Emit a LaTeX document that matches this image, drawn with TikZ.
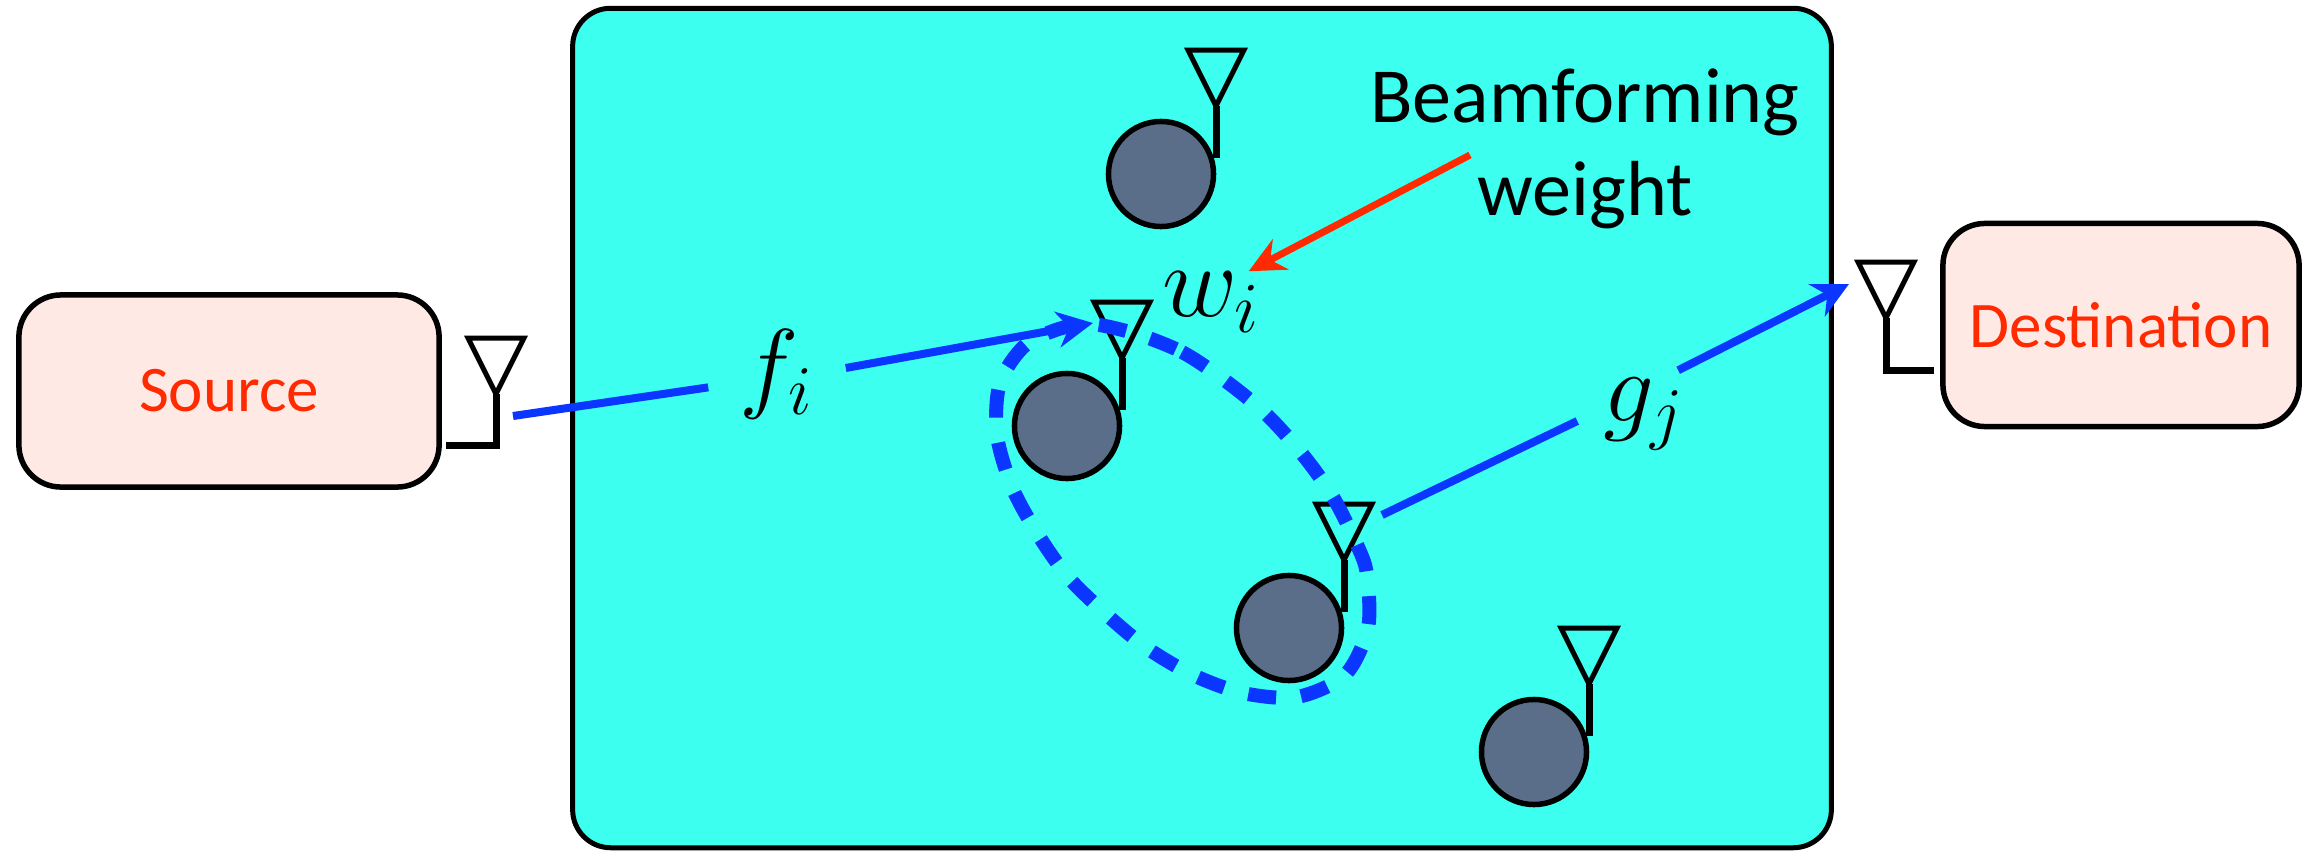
\documentclass[tikz,border=0pt]{standalone}
\usepackage{fontspec}
\setmainfont{Carlito}
\usetikzlibrary{arrows.meta}
\definecolor{netcyan}{HTML}{3CFFF0}
\definecolor{boxpink}{HTML}{FFE9E4}
\definecolor{relaygray}{HTML}{5A6E8A}
\definecolor{sigblue}{HTML}{0A36FF}
\definecolor{labelred}{HTML}{FF2A00}
\tikzset{
  endbox/.style={draw=black, line width=0.055cm, rounded corners=0.42cm, fill=boxpink, text=labelred, inner sep=0pt, font=\fontsize{18.5}{22}\selectfont},
  network/.style={draw=black, line width=0.05cm, rounded corners=0.38cm, fill=netcyan, minimum width=12.58cm, minimum height=8.39cm},
  relay/.style={circle, draw=black, line width=0.055cm, fill=relaygray, minimum size=1.05cm, inner sep=0pt},
  mathlabel/.style={inner sep=0pt, font=\huge},
  antline/.style={draw=black, line width=0.05cm},
  feedline/.style={draw=black, line width=0.07cm},
  sigline/.style={draw=sigblue, line width=0.08cm},
  sigarrow/.style={sigline, -{Stealth[length=0.36cm, width=0.36cm]}},
  cluster/.style={draw=sigblue, line width=0.14cm, dash pattern=on 0.28cm off 0.25cm},
}
\newcommand{\antenna}[1]{\draw[antline] (#1) -- ++(-28,-56) -- ++(56,0) -- cycle;}
\begin{document}
\begin{tikzpicture}[x=0.01cm, y=-0.01cm]
  \useasboundingbox (0,0) rectangle (2308,851);

  % Relay Network
  \node[network] (net) at (1202,428) {};

  % Source and Destination
  \node[endbox, minimum width=4.2cm, minimum height=1.92cm] (src) at (229,391) {Source};
  \node[endbox, minimum width=3.56cm, minimum height=2.03cm] (dst) at (2121,325) {Destination};

  % Source and Destination Antennas
  \coordinate (srcant) at (496,394);
  \coordinate (srcfoot) at (496,445);
  \coordinate (srcend) at (446,445);
  \coordinate (dstant) at (1886,318);
  \coordinate (dstfoot) at (1886,370);
  \coordinate (dstend) at (1934,370);
  \antenna{srcant}
  \antenna{dstant}
  \draw[feedline] (srcant) -- (srcfoot) -- (srcend);
  \draw[feedline] (dstant) -- (dstfoot) -- (dstend);

  % Relays
  \foreach \name/\posx/\posy in {r1/1161/174, r2/1067/426, r3/1289/628, r4/1534/752} {
    \node[relay] (\name) at (\posx,\posy) {};
    \coordinate (\name ant) at (\posx+55,\posy-68);
    \coordinate (\name foot) at (\posx+55,\posy-16);
    \antenna{\name ant}
    \draw[feedline] (\name ant) -- (\name foot);
  }

  % Labels
  \node[mathlabel, minimum width=1.36cm] (fi) at (777,374) {\scalebox{1.38}{$f_i$}};
  \node[mathlabel, minimum width=1.32cm, minimum height=0.86cm] (gj) at (1644,414) {\scalebox{1.38}{$g_j$}};
  \node[mathlabel] (wi) at (1212,302) {\scalebox{1.42}{$w_i$}};
  \node[align=center, inner sep=0pt, font=\fontsize{22.2}{26.5}\selectfont] (beam) at (1585,149) {Beamforming\\weight};

  % Cluster
  \draw[cluster] plot[smooth cycle] coordinates {(1130,332) (1182,352) (1227,382) (1267,415) (1303,455) (1333,497) (1358,547) (1367,575) (1368,628) (1345,675) (1297,697) (1243,693) (1193,675) (1147,648) (1107,615) (1068,577) (1037,533) (1012,487) (997,435) (1000,383) (1028,343) (1080,324)};

  % Signal Paths
  \coordinate (srcfeed) at (513,416);
  \coordinate (r2in) at (1093,323);
  \coordinate (r3out) at (1382,515);
  \coordinate (dstin) at (1849,284);
  \draw[sigline] (srcfeed) -- (fi.191);
  \draw[sigarrow] (fi.5) -- (r2in);
  \draw[sigline] (r3out) -- (gj.186);
  \draw[sigarrow] (gj.52) -- (dstin);

  % Weight Pointer
  \coordinate (beamout) at (1470,155);
  \draw[draw=labelred, line width=0.07cm, -{Stealth[length=0.36cm, width=0.34cm]}] (beamout) -- (wi.40);
\end{tikzpicture}
\end{document}
